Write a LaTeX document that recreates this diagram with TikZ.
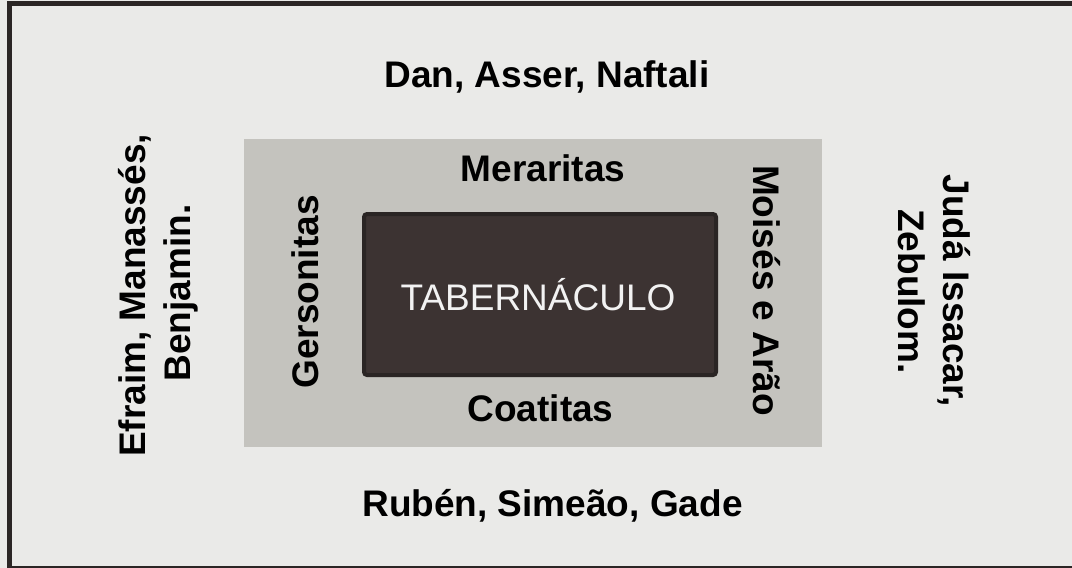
\documentclass[tikz,border=0pt]{standalone}
\usepackage{fontspec}
\setmainfont{Liberation Sans}
\definecolor{bgc}{HTML}{EAEAE8}
\definecolor{framec}{HTML}{2B2625}
\definecolor{campc}{HTML}{C4C3BE}
\definecolor{tabfill}{HTML}{3C3332}
\definecolor{tabedge}{HTML}{2A2524}
\definecolor{tabtext}{HTML}{F2F2F2}
\tikzset{
  tribe/.style={anchor=base, inner sep=0pt, font=\fontsize{37}{44}\selectfont\bfseries, text=black},
  levite/.style={tribe},
  tabl/.style={anchor=base, inner sep=0pt, font=\fontsize{37}{44}\selectfont, text=tabtext}
}
\begin{document}
\begin{tikzpicture}[x=1pt,y=-1pt]
\useasboundingbox (0,0) rectangle (1072,568);
\fill[bgc] (0,0) rectangle (1072,568);
\draw[framec, line width=5pt] (9.5,3.5) rectangle (1076,568);
% camp of levites
\fill[campc] (244,139) rectangle (822,447);
% tabernacle
\draw[tabedge, fill=tabfill, line width=4pt, rounded corners=3pt] (364,214) rectangle (716,375);
\node[tabl] (tab) at (538,310) {TABERNÁCULO};
% levites
\node[levite] (merari) at (543,181.7) {Meraritas};
\node[levite] (coat) at (540.5,421.7) {Coatitas};
\node[levite, rotate=90] (gerson) at (318,292) {Gersonitas};
\node[levite, rotate=-90] (moises) at (753,290.6) {Moisés e Arão};
% tribes
\node[tribe] (north) at (547,87) {Dan, Asser, Naftali};
\node[tribe] (south) at (552.5,516.7) {Rubén, Simeão, Gade};
\node[tribe, rotate=90] (west1) at (145,295.5) {Efraim, Manassés,};
\node[tribe, rotate=90] (west2) at (190,293) {Benjamin.};
\node[tribe, rotate=-90] (east1) at (943,291) {Judá Issacar,};
\node[tribe, rotate=-90] (east2) at (898,291.5) {Zebulom.};
\end{tikzpicture}
\end{document}
